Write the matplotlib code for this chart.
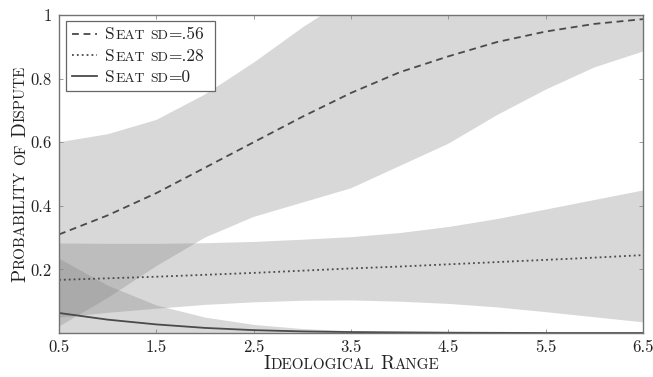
import matplotlib
matplotlib.use("Agg")
import matplotlib.pyplot as plt
from matplotlib.font_manager import FontProperties
from matplotlib.transforms import IdentityTransform
from matplotlib.lines import Line2D
from matplotlib.offsetbox import AnchoredOffsetbox, HPacker, VPacker, TextArea, DrawingArea

plt.rcParams['font.family'] = 'cmr10'
plt.rcParams['axes.formatter.use_mathtext'] = True

# ideological range grid
x = [0.5, 1.0, 1.5, 2.0, 2.5, 3.0, 3.5, 4.0, 4.5, 5.0, 5.5, 6.0, 6.5]

# seat sd = .56
mid56 = [0.31, 0.37, 0.44, 0.52, 0.60, 0.68, 0.755, 0.82, 0.87, 0.915, 0.948, 0.972, 0.987]
lo56 = [0.02, 0.11, 0.21, 0.30, 0.365, 0.41, 0.455, 0.525, 0.595, 0.685, 0.765, 0.835, 0.885]
hi56 = [0.60, 0.625, 0.67, 0.75, 0.85, 0.96, 1.06, 1.14, 1.2, 1.25, 1.28, 1.3, 1.3]

# seat sd = .28
mid28 = [0.167, 0.172, 0.177, 0.183, 0.189, 0.196, 0.203, 0.209, 0.216, 0.223, 0.230, 0.237, 0.245]
lo28 = [0.05, 0.065, 0.078, 0.09, 0.098, 0.103, 0.104, 0.10, 0.093, 0.082, 0.067, 0.051, 0.035]
hi28 = [0.283, 0.282, 0.282, 0.284, 0.288, 0.295, 0.303, 0.316, 0.335, 0.36, 0.39, 0.42, 0.45]

# seat sd = 0
mid0 = [0.063, 0.042, 0.027, 0.016, 0.009, 0.005, 0.003, 0.002, 0.001, 0.0005, 0.0, 0.0, 0.0]
lo0 = [0.0, 0.0, 0.0, 0.0, 0.0, 0.0, 0.0, 0.0, 0.0, 0.0, 0.0, 0.0, 0.0]
hi0 = [0.235, 0.15, 0.088, 0.05, 0.027, 0.014, 0.007, 0.003, 0.001, 0.0, 0.0, 0.0, 0.0]

labels = ["Seat sd=.56", "Seat sd=.28", "Seat sd=0"]
xticks = [0.5, 1.5, 2.5, 3.5, 4.5, 5.5, 6.5]
yticks = [0.2, 0.4, 0.6, 0.8, 1.0]
ytick_labels = ["0.2", "0.4", "0.6", "0.8", "1"]

TICK_SIZE = 12
LEG_SIZE = 12.5
LAB_SIZE = 13.8
SC = 0.79
LINE_COLOR = '#4a4a4a'
TEXT_COLOR = '#222222'


def sc_runs(text, big):
    # split text into (string, size) runs imitating small caps; None marks a space
    runs = []
    for i, word in enumerate(text.split(' ')):
        if i:
            runs.append(None)
        cur, cur_small = '', None
        for ch in word:
            is_small = ch.islower()
            if cur and is_small != cur_small:
                runs.append((cur.upper(), big * SC if cur_small else big))
                cur = ''
            cur += ch
            cur_small = is_small
        if cur:
            runs.append((cur.upper(), big * SC if cur_small else big))
    return runs


fig = plt.figure(figsize=(6.53, 3.77), dpi=100)
ax = fig.add_axes([0.0904, 0.1167, 0.8943, 0.8435])

fill_kw = dict(color='0.5', alpha=0.3, linewidth=0)
ax.fill_between(x, lo56, hi56, **fill_kw)
ax.fill_between(x, lo28, hi28, **fill_kw)
ax.fill_between(x, lo0, hi0, **fill_kw)

styles = [dict(dashes=(3.8, 2.6)), dict(linestyle=(0, (1, 1.7))), dict(linestyle='-')]
for ys, st in zip([mid56, mid28, mid0], styles):
    ax.plot(x, ys, color=LINE_COLOR, lw=1.3, **st)

ax.set_xlim(0.5, 6.5)
ax.set_ylim(0, 1)
ax.set_xticks(xticks)
ax.set_xticklabels([str(t) for t in xticks])
ax.set_yticks(yticks)
ax.set_yticklabels(ytick_labels)
ax.tick_params(direction='in', top=True, right=True, length=3, width=0.6,
               color='0.55', labelsize=TICK_SIZE, labelcolor=TEXT_COLOR, pad=5)
for s in ax.spines.values():
    s.set_color('0.45')
    s.set_linewidth(1.0)

# legend built from packed boxes so the labels can be small caps
rows = []
for st, lab in zip(styles, labels):
    da = DrawingArea(18, 8, 0, 0)
    da.add_artist(Line2D([0, 18], [4.0, 4.0], color=LINE_COLOR, lw=1.3, **st))
    parts = []
    for run in sc_runs(lab, LEG_SIZE):
        if run is None:
            parts.append(DrawingArea(LEG_SIZE * 0.3, 0, 0, 0))
        else:
            parts.append(TextArea(run[0], textprops=dict(size=run[1], color=TEXT_COLOR)))
    parts.append(DrawingArea(4, 0, 0, 0))
    txt = HPacker(children=parts, align='baseline', pad=0, sep=0)
    rows.append(HPacker(children=[da, txt], align='baseline', pad=0, sep=6))
box = VPacker(children=rows, align='left', pad=0, sep=4.2)
leg = AnchoredOffsetbox(loc='upper left', child=box, pad=0.35, borderpad=0,
                        frameon=True, bbox_to_anchor=(0.012, 0.981),
                        bbox_transform=ax.transAxes,
                        prop=dict(size=LEG_SIZE))
leg.patch.set_edgecolor('0.4')
leg.patch.set_linewidth(0.9)
leg.patch.set_boxstyle('square', pad=0)
ax.add_artist(leg)

fig.canvas.draw()
renderer = fig.canvas.get_renderer()


def sc_text(px, py, text, big, rotation=0):
    # place a small caps string centred on (px, py) in pixels, baseline at py
    runs = sc_runs(text, big)
    widths = []
    for run in runs:
        if run is None:
            widths.append(big * 0.333 * fig.dpi / 72)
        else:
            w, _, _ = renderer.get_text_width_height_descent(
                run[0], FontProperties(family='cmr10', size=run[1]), ismath=False)
            widths.append(w)
    total = sum(widths)
    dx, dy = (0, 1) if rotation == 90 else (1, 0)
    pos = -total / 2
    for run, w in zip(runs, widths):
        if run is not None:
            fig.text(px + dx * pos, py + dy * pos, run[0], size=run[1],
                     transform=IdentityTransform(), ha='left', va='baseline',
                     rotation=rotation, rotation_mode='anchor', color=TEXT_COLOR)
        pos += w


bb = ax.get_window_extent(renderer)
sc_text((bb.x0 + bb.x1) / 2, 8, "Ideological Range", LAB_SIZE)
sc_text(25, (bb.y0 + bb.y1) / 2, "Probability of Dispute", LAB_SIZE, rotation=90)

fig.savefig('out.png', dpi=100)
